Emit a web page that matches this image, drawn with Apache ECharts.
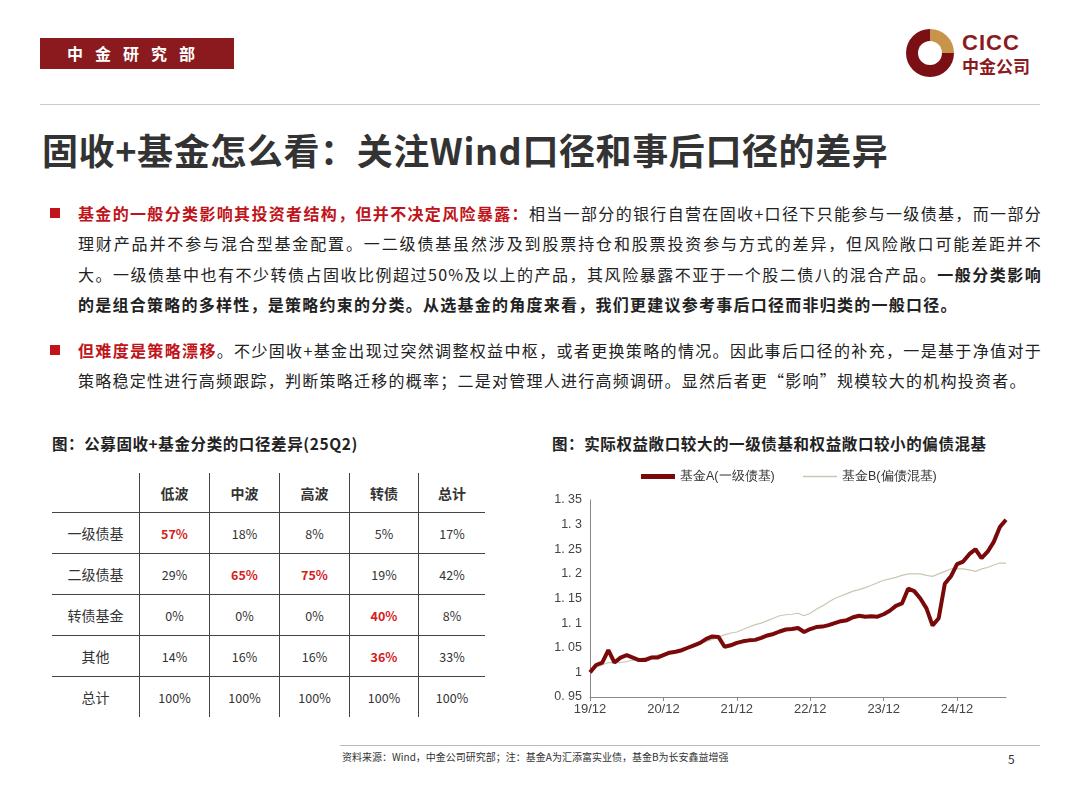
<!DOCTYPE html>
<html><head><meta charset="utf-8">
<script src="https://cdn.jsdelivr.net/npm/echarts@6/dist/echarts.min.js"></script>
<style>
body{margin:0;width:1080px;height:810px;background:#fff;font-family:"Noto Sans CJK SC","Noto Sans",sans-serif;position:relative;overflow:hidden;color:#222}
.abs{position:absolute}
#bar{left:40px;top:38px;width:194px;height:31px;background:#8a1a1e;color:#fff;font-size:16px;font-weight:bold;line-height:31px;text-align:center;letter-spacing:12px}
#hr{left:40px;top:104px;width:1000px;height:1px;background:#ccc}
#title{left:42px;top:124px;font-size:36px;font-weight:bold;color:#333;line-height:50px;letter-spacing:0.6px}
.para{left:50px;width:992px;font-size:16px;line-height:30.3px;color:#222;letter-spacing:1.25px}
.para .sq{position:absolute;left:0;top:10px;width:10px;height:10px;background:#c0141a}
.para .tx{margin-left:28px;text-align:justify}
.red{color:#c0141a;font-weight:bold}
.b{font-weight:bold}
.sub{font-size:15.5px;font-weight:bold;color:#222;letter-spacing:0.6px}
table{position:absolute;left:52px;top:473px;border-collapse:collapse;font-size:12.5px;color:#333}
td{text-align:center;height:40px;padding:0}
td.h{font-weight:bold;font-size:14px;height:39px}
td.rh{font-size:14px}
td.hot{color:#d42020;font-weight:bold}
#logo{left:906px;top:29px;width:48px;height:48px;border-radius:50%;background:conic-gradient(#c8934a 0 90deg,#7a0f14 90deg 360deg)}
#logo2{left:918px;top:41px;width:24px;height:24px;border-radius:50%;background:#fff}
</style></head><body>
<div id="bar" class="abs">中金研究部</div>
<div id="logo" class="abs"></div><div id="logo2" class="abs"></div>
<div class="abs" style="left:962px;top:30px;font-size:22px;font-weight:bold;color:#8a1a1e;font-family:'Liberation Sans',sans-serif;letter-spacing:1px">CICC</div>
<div class="abs" style="left:962px;top:56px;font-size:17px;font-weight:bold;color:#8a1a1e;line-height:20px">中金公司</div>
<div id="hr" class="abs"></div>
<div id="title" class="abs">固收+基金怎么看：关注Wind口径和事后口径的差异</div>
<div class="abs para" style="top:198px"><span class="sq"></span><div class="tx"><span class="red">基金的一般分类影响其投资者结构，但并不决定风险暴露：</span>相当一部分的银行自营在固收+口径下只能参与一级债基，而一部分理财产品并不参与混合型基金配置。一二级债基虽然涉及到股票持仓和股票投资参与方式的差异，但风险敞口可能差距并不大。一级债基中也有不少转债占固收比例超过50%及以上的产品，其风险暴露不亚于一个股二债八的混合产品。<span class="b">一般分类影响的是组合策略的多样性，是策略约束的分类。从选基金的角度来看，我们更建议参考事后口径而非归类的一般口径。</span></div></div>
<div class="abs para" style="top:335px"><span class="sq"></span><div class="tx"><span class="red">但难度是策略漂移</span>。不少固收+基金出现过突然调整权益中枢，或者更换策略的情况。因此事后口径的补充，一是基于净值对于策略稳定性进行高频跟踪，判断策略迁移的概率；二是对管理人进行高频调研。显然后者更“影响”规模较大的机构投资者。</div></div>
<div class="abs sub" style="left:52px;top:432px">图：公募固收+基金分类的口径差异(25Q2)</div>
<div class="abs sub" style="left:552px;top:432px">图：实际权益敞口较大的一级债基和权益敞口较小的偏债混基</div>
<table id="tbl"></table>
<div id="chart" class="abs" style="left:540px;top:460px;width:480px;height:280px"></div>
<div class="abs" style="left:340px;top:745px;width:700px;height:1px;background:#bbb"></div>
<div class="abs" style="left:342px;top:749px;font-size:10px;color:#333">资料来源：Wind，中金公司研究部；注：基金A为汇添富实业债，基金B为长安鑫益增强</div>
<div class="abs" style="left:1008px;top:750px;font-size:12px;color:#333">5</div>
<script>
// ---- table data ----
const colHeads=['低波','中波','高波','转债','总计'];
const rowHeads=['一级债基','二级债基','转债基金','其他','总计'];
const tableVals=[
 ['57%','18%','8%','5%','17%'],
 ['29%','65%','75%','19%','42%'],
 ['0%','0%','0%','40%','8%'],
 ['14%','16%','16%','36%','33%'],
 ['100%','100%','100%','100%','100%']];
const highlight=[[0,0],[1,1],[1,2],[2,3],[3,3]];
// ---- line chart data ----
const months=['19/12','20/01','20/02','20/03','20/04','20/05','20/06','20/07','20/08','20/09','20/10','20/11',
'20/12','21/01','21/02','21/03','21/04','21/05','21/06','21/07','21/08','21/09','21/10','21/11',
'21/12','22/01','22/02','22/03','22/04','22/05','22/06','22/07','22/08','22/09','22/10','22/11',
'22/12','23/01','23/02','23/03','23/04','23/05','23/06','23/07','23/08','23/09','23/10','23/11',
'23/12','24/01','24/02','24/03','24/04','24/05','24/06','24/07','24/08','24/09','24/10','24/11',
'24/12','25/01','25/02','25/03','25/04','25/05','25/06','25/07','25/08'];
const fundA=[1.00,1.015,1.02,1.045,1.02,1.03,1.035,1.03,1.025,1.025,1.03,1.03,
1.035,1.04,1.042,1.045,1.05,1.055,1.06,1.068,1.073,1.072,1.052,1.055,
1.06,1.063,1.065,1.066,1.07,1.075,1.078,1.083,1.087,1.088,1.09,1.082,
1.088,1.092,1.093,1.096,1.10,1.104,1.106,1.112,1.115,1.113,1.114,1.113,
1.118,1.125,1.135,1.14,1.17,1.165,1.15,1.13,1.095,1.11,1.18,1.195,
1.22,1.225,1.24,1.25,1.232,1.245,1.265,1.295,1.31];
const fundB=[1.00,1.01,1.015,1.02,1.02,1.02,1.022,1.025,1.027,1.03,1.032,1.035,
1.037,1.04,1.043,1.046,1.05,1.054,1.058,1.063,1.067,1.072,1.076,1.08,
1.082,1.087,1.092,1.097,1.10,1.105,1.11,1.115,1.117,1.118,1.12,1.115,
1.12,1.128,1.135,1.143,1.15,1.155,1.16,1.165,1.168,1.172,1.177,1.182,
1.187,1.19,1.193,1.197,1.2,1.2,1.2,1.197,1.195,1.2,1.205,1.21,
1.21,1.21,1.208,1.205,1.21,1.213,1.218,1.222,1.222];
const yTicks=['0.95','1','1.05','1.1','1.15','1.2','1.25','1.3','1.35'];

// build table
const widths=[87,69,69,69,68,66];
const bl='1px solid #444';
let h='<tr>';
h+=`<td class="h" style="width:${widths[0]}px;border-right:${bl};border-bottom:${bl}"></td>`;
colHeads.forEach((c,i)=>{h+=`<td class="h" style="width:${widths[i+1]}px;${i<4?'border-right:'+bl+';':''}border-bottom:${bl}">${c}</td>`});
h+='</tr>';
rowHeads.forEach((r,ri)=>{
  const bb=ri<rowHeads.length-1?'border-bottom:'+bl+';':'';
  h+=`<tr><td class="rh" style="border-right:${bl};${bb}">${r}</td>`;
  tableVals[ri].forEach((v,ci)=>{
    const hot=highlight.some(p=>p[0]===ri&&p[1]===ci);
    h+=`<td class="${hot?'hot':''}" style="${ci<4?'border-right:'+bl+';':''}${bb}">${v}</td>`;
  });
  h+='</tr>';
});
document.getElementById('tbl').innerHTML=h;

const ch=echarts.init(document.getElementById('chart'));
ch.setOption({
  animation:false,
  legend:[
    {top:5,left:96,itemWidth:34,itemHeight:5,icon:'rect',textStyle:{fontSize:12.5,color:'#333'},data:['基金A(一级债基)']},
    {top:5,left:258,itemWidth:34,itemHeight:1.5,icon:'rect',textStyle:{fontSize:12.5,color:'#333'},data:['基金B(偏债混基)']}
  ],
  grid:{left:50,right:14,top:40,bottom:43},
  xAxis:{type:'category',data:months,boundaryGap:false,
    axisLine:{lineStyle:{color:'#888'}},axisTick:{show:true,interval:11,length:4,lineStyle:{color:'#888'}},
    axisLabel:{interval:11,color:'#444',fontSize:13,margin:6}},
  yAxis:{type:'value',min:0.95,max:1.35,interval:0.05,splitLine:{show:false},
    axisLine:{show:true,lineStyle:{color:'#888'}},axisTick:{show:false},
    axisLabel:{color:'#444',fontSize:12.5,formatter:v=>{const s=yTicks.find(t=>Math.abs(parseFloat(t)-v)<1e-6);return s.replace('.','. ');}}},
  series:[
    {name:'基金B(偏债混基)',type:'line',data:fundB,symbol:'none',lineStyle:{width:1.2,color:'#c9c8b4'},itemStyle:{color:'#c9c8b4'},z:1},
    {name:'基金A(一级债基)',type:'line',data:fundA,symbol:'none',lineStyle:{width:4,color:'#7a0a0a'},itemStyle:{color:'#7a0a0a'},z:2}
  ]
});
</script>
</body></html>
